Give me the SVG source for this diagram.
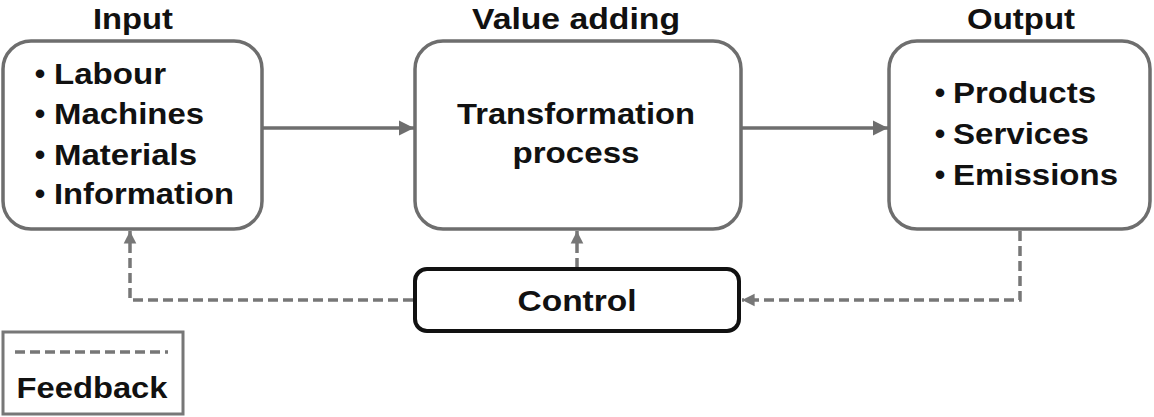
<svg xmlns="http://www.w3.org/2000/svg" width="1154" height="417" viewBox="0 0 1154 417">
<style>
.box{fill:#fff;stroke:#6e6e6e;stroke-width:3.5}
.ctl{fill:#fff;stroke:#111;stroke-width:4}
.t{font-family:"Liberation Sans",Arial,sans-serif;font-weight:bold;font-size:30px;fill:#111}
.m{text-anchor:middle}
.b{font-family:"Liberation Sans",Arial,sans-serif;font-weight:bold;font-size:30px;fill:#111;text-anchor:middle}
.solid{fill:none;stroke:#6e6e6e;stroke-width:3.5}
.dash{fill:none;stroke:#777;stroke-width:3.5;stroke-dasharray:10 5}
</style>
<defs>
<marker id="ah" viewBox="0 0 10 10" refX="10" refY="5" markerWidth="4.3" markerHeight="4.3" markerUnits="strokeWidth" orient="auto">
<path d="M0,0 L10,5 L0,10 Z" fill="#6e6e6e"/>
</marker>
<marker id="ahd" viewBox="0 0 10 10" refX="10" refY="5" markerWidth="3.6" markerHeight="4" markerUnits="strokeWidth" orient="auto">
<path d="M0,0 L10,5 L0,10 Z" fill="#777"/>
</marker>
</defs>
<rect width="1154" height="417" fill="#fff"/>

<g id="connectors">
<line class="solid" x1="262" y1="128" x2="414" y2="128" marker-end="url(#ah)"/>
<line class="solid" x1="742" y1="128" x2="888" y2="128" marker-end="url(#ah)"/>
<line class="dash" x1="577" y1="268" x2="577" y2="231" marker-end="url(#ahd)"/>
<path class="dash" d="M413,300 H130 V231" marker-end="url(#ahd)"/>
<path class="dash" d="M1020,231 V300 H742" marker-end="url(#ahd)"/>
</g>

<g id="input">
<text class="t m" x="133" y="29" textLength="80" lengthAdjust="spacingAndGlyphs">Input</text>
<rect class="box" x="3" y="41" width="259" height="188" rx="28"/>
<text class="b" x="40" y="84">•</text>
<text class="t" x="54" y="84" textLength="112" lengthAdjust="spacingAndGlyphs">Labour</text>
<text class="b" x="40" y="124">•</text>
<text class="t" x="54" y="124" textLength="150" lengthAdjust="spacingAndGlyphs">Machines</text>
<text class="b" x="40" y="165">•</text>
<text class="t" x="54" y="165" textLength="143" lengthAdjust="spacingAndGlyphs">Materials</text>
<text class="b" x="40" y="204">•</text>
<text class="t" x="54" y="204" textLength="180" lengthAdjust="spacingAndGlyphs">Information</text>
</g>

<g id="value">
<text class="t m" x="576" y="29" textLength="208" lengthAdjust="spacingAndGlyphs">Value adding</text>
<rect class="box" x="415" y="41" width="326" height="188" rx="28"/>
<text class="t m" x="576" y="124" textLength="238" lengthAdjust="spacingAndGlyphs">Transformation</text>
<text class="t m" x="576" y="163" textLength="127" lengthAdjust="spacingAndGlyphs">process</text>
</g>

<g id="output">
<text class="t m" x="1021" y="29" textLength="108" lengthAdjust="spacingAndGlyphs">Output</text>
<rect class="box" x="889" y="41" width="261" height="188" rx="28"/>
<text class="b" x="940" y="103">•</text>
<text class="t" x="953" y="103" textLength="143" lengthAdjust="spacingAndGlyphs">Products</text>
<text class="b" x="940" y="144">•</text>
<text class="t" x="953" y="144" textLength="136" lengthAdjust="spacingAndGlyphs">Services</text>
<text class="b" x="940" y="185">•</text>
<text class="t" x="953" y="185" textLength="165" lengthAdjust="spacingAndGlyphs">Emissions</text>
</g>

<g id="control">
<rect class="ctl" x="415" y="269" width="324" height="62" rx="12"/>
<text class="t m" x="577" y="311" textLength="119" lengthAdjust="spacingAndGlyphs">Control</text>
</g>

<g id="legend">
<rect x="3" y="332" width="180" height="82" fill="#fff" stroke="#777" stroke-width="3"/>
<line class="dash" x1="15" y1="352" x2="168" y2="352"/>
<text class="t m" x="92" y="398" textLength="151" lengthAdjust="spacingAndGlyphs">Feedback</text>
</g>
</svg>
